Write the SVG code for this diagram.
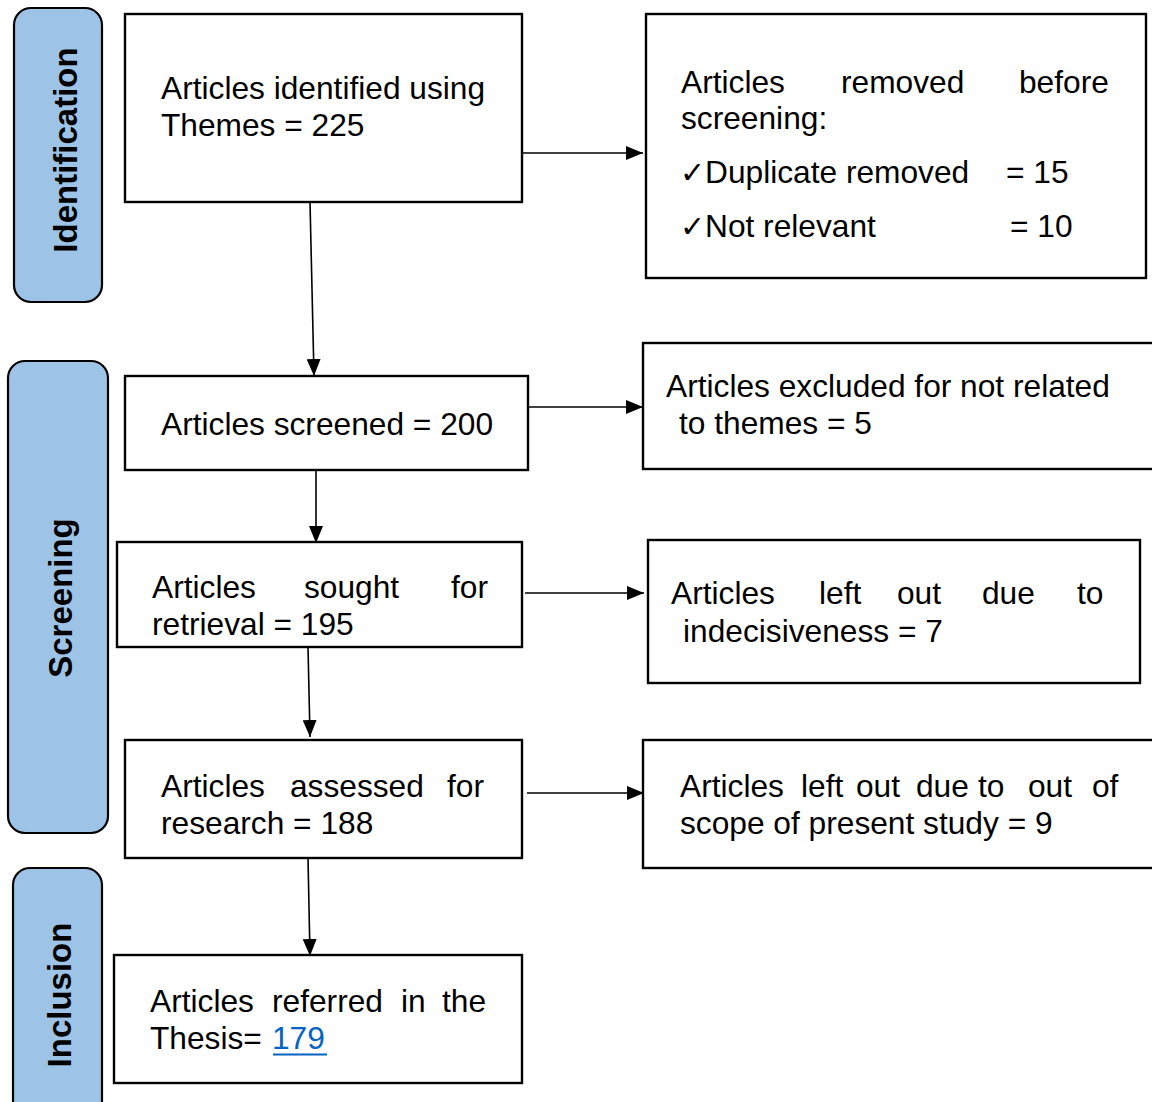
<svg xmlns="http://www.w3.org/2000/svg" width="1152" height="1102" viewBox="0 0 1152 1102">
  <style>
    .phase { fill: #9DC3E6; stroke: #000; stroke-width: 2.2; }
    .phase-label { font-family: "Liberation Sans", Arial, sans-serif; font-size: 33px; font-weight: bold; fill: #000; text-anchor: middle; }
    .box { fill: #fff; stroke: #000; stroke-width: 2.4; }
    .t { font-family: "Liberation Sans", Arial, sans-serif; font-size: 31.7px; fill: #000; }
    .chk { font-family: "DejaVu Sans", sans-serif; font-size: 30px; }
    .link { fill: #0563C1; }
    .edge { stroke: #000; stroke-width: 1.6; fill: none; marker-end: url(#arrow); }
  </style>
  <defs>
    <marker id="arrow" markerUnits="userSpaceOnUse" markerWidth="18" markerHeight="14" refX="17" refY="7" orient="auto">
      <path d="M0,0 L17,7 L0,14 Z" fill="#000"/>
    </marker>
  </defs>
  <rect width="1152" height="1102" fill="#fff"/>

  <!-- phase bands -->
  <g id="phase-identification">
    <rect class="phase" x="14" y="8" width="88" height="294" rx="17"/>
    <text class="phase-label" transform="translate(77,150) rotate(-90)">Identification</text>
  </g>
  <g id="phase-screening">
    <rect class="phase" x="8" y="361" width="100" height="472" rx="17"/>
    <text class="phase-label" transform="translate(72,598) rotate(-90)">Screening</text>
  </g>
  <g id="phase-inclusion">
    <rect class="phase" x="13" y="868" width="89" height="260" rx="17"/>
    <text class="phase-label" transform="translate(71,995) rotate(-90)">Inclusion</text>
  </g>

  <!-- connectors -->
  <g id="connectors">
    <path class="edge" d="M523,153 L643,153"/>
    <path class="edge" d="M310,202 L314,376"/>
    <path class="edge" d="M524,407 L643,407"/>
    <path class="edge" d="M316,470 L316,543"/>
    <path class="edge" d="M525,593 L644,593"/>
    <path class="edge" d="M308,647 L310,737"/>
    <path class="edge" d="M527,793 L644,793"/>
    <path class="edge" d="M308,858 L310,956"/>
  </g>

  <!-- main flow -->
  <g id="identified">
    <rect class="box" x="125" y="14" width="397" height="188"/>
    <text class="t" x="161" y="99">Articles identified using</text>
    <text class="t" x="161" y="136">Themes = 225</text>
  </g>
  <g id="removed-before-screening">
    <rect class="box" x="646" y="14" width="500" height="264"/>
    <text class="t" y="93"><tspan x="681">Articles</tspan><tspan x="841">removed</tspan><tspan x="1019">before</tspan></text>
    <text class="t" x="681" y="129">screening:</text>
    <text class="t" y="183"><tspan class="chk" x="680">✓</tspan><tspan x="705">Duplicate removed</tspan><tspan x="1006">= 15</tspan></text>
    <text class="t" y="237"><tspan class="chk" x="680">✓</tspan><tspan x="705">Not relevant</tspan><tspan x="1010">= 10</tspan></text>
  </g>
  <g id="screened">
    <rect class="box" x="125" y="376" width="403" height="94"/>
    <text class="t" x="161" y="435">Articles screened = 200</text>
  </g>
  <g id="excluded">
    <rect class="box" x="643" y="343" width="520" height="126"/>
    <text class="t" x="666" y="397">Articles excluded for not related</text>
    <text class="t" x="679" y="434">to themes = 5</text>
  </g>
  <g id="sought">
    <rect class="box" x="117" y="542" width="405" height="105"/>
    <text class="t" y="598"><tspan x="152">Articles</tspan><tspan x="304">sought</tspan><tspan x="451">for</tspan></text>
    <text class="t" x="152" y="635">retrieval = 195</text>
  </g>
  <g id="indecisive">
    <rect class="box" x="648" y="540" width="492" height="143"/>
    <text class="t" y="604"><tspan x="671">Articles</tspan><tspan x="819">left</tspan><tspan x="897">out</tspan><tspan x="982">due</tspan><tspan x="1077">to</tspan></text>
    <text class="t" x="683" y="642">indecisiveness = 7</text>
  </g>
  <g id="assessed">
    <rect class="box" x="125" y="740" width="397" height="118"/>
    <text class="t" y="797"><tspan x="161">Articles</tspan><tspan x="290">assessed</tspan><tspan x="447">for</tspan></text>
    <text class="t" x="161" y="834">research = 188</text>
  </g>
  <g id="out-of-scope">
    <rect class="box" x="643" y="740" width="520" height="128"/>
    <text class="t" y="797"><tspan x="680">Articles</tspan><tspan x="801">left</tspan><tspan x="856">out</tspan><tspan x="916">due</tspan><tspan x="978">to</tspan><tspan x="1028">out</tspan><tspan x="1092">of</tspan></text>
    <text class="t" x="680" y="834">scope of present study = 9</text>
  </g>
  <g id="included">
    <rect class="box" x="114" y="955" width="408" height="128"/>
    <text class="t" y="1012"><tspan x="150">Articles</tspan><tspan x="272">referred</tspan><tspan x="401">in</tspan><tspan x="442">the</tspan></text>
    <text class="t" y="1049"><tspan x="150">Thesis=</tspan><tspan class="link" x="272">179</tspan></text>
    <line x1="273" y1="1054.5" x2="327" y2="1054.5" stroke="#0563C1" stroke-width="2.2"/>
  </g>
</svg>
